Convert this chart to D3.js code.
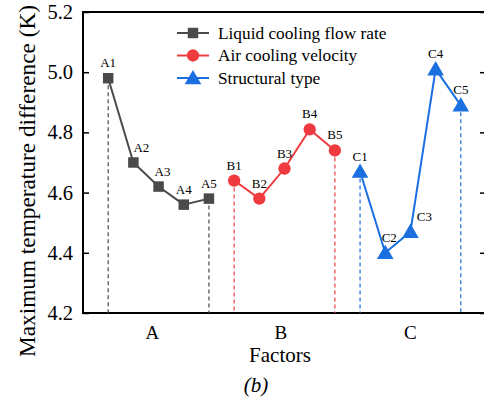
<!DOCTYPE html>
<html>
<head>
<meta charset="utf-8">
<script src="https://cdn.jsdelivr.net/npm/d3@7"></script>
<style>
  body { margin: 0; background: #fff; }
  svg { display: block; font-family: "Liberation Serif", "Times New Roman", serif; }
</style>
</head>
<body>
<svg id="chart" width="484" height="402"></svg>
<script>
// Data
const seriesNames = ["Liquid cooling flow rate", "Air cooling velocity", "Structural type"];
const groupNames = ["A", "B", "C"];
const levelLabels = [
    ["A1", "A2", "A3", "A4", "A5"],
    ["B1", "B2", "B3", "B4", "B5"],
    ["C1", "C2", "C3", "C4", "C5"]
];
const liquidValues = [4.98, 4.70, 4.62, 4.56, 4.58];
const airValues = [4.64, 4.58, 4.68, 4.81, 4.74];
const structValues = [4.67, 4.40, 4.47, 5.01, 4.89];
const yTicks = [4.2, 4.4, 4.6, 4.8, 5.0, 5.2];

const colors = ["#4a4a4a", "#ef3b3f", "#1b6fe0"];
const symbols = [d3.symbolSquare, d3.symbolCircle, d3.symbolTriangle];
const symbolSizes = [110, 120, 120];

const svg = d3.select("#chart");
const plotL = 83, plotR = 486, plotT = 12, plotB = 313;

const x = d3.scaleLinear().domain([-1, 15]).range([plotL, plotR]);
const y = d3.scaleLinear().domain([4.2, 5.2]).range([plotB, plotT]);

const allValues = [liquidValues, airValues, structValues];

// frame
svg.append("rect")
    .attr("x", plotL).attr("y", plotT)
    .attr("width", plotR - plotL).attr("height", plotB - plotT)
    .attr("fill", "none").attr("stroke", "#000").attr("stroke-width", 2);

// y axis, ticks inward
const yAxis = svg.append("g")
    .attr("transform", `translate(${plotL},0)`)
    .call(d3.axisLeft(y).tickValues(yTicks).tickFormat(d3.format(".1f")).tickSizeInner(-6).tickSizeOuter(0).tickPadding(10));
yAxis.select(".domain").remove();
yAxis.selectAll("line").attr("stroke", "#000").attr("stroke-width", 1.5);
yAxis.selectAll("text").attr("font-size", 20.5).attr("fill", "#000")
    .attr("font-family", "Liberation Serif");

const yAxisR = svg.append("g")
    .attr("transform", `translate(${plotR},0)`)
    .call(d3.axisRight(y).tickValues(yTicks).tickFormat("").tickSizeInner(-6).tickSizeOuter(0));
yAxisR.select(".domain").remove();
yAxisR.selectAll("line").attr("stroke", "#000").attr("stroke-width", 1.5);

// group labels on the x axis
const groupCenters = [1.75, 6.85, 12];
svg.selectAll(".grp")
    .data(groupNames)
    .join("text")
    .attr("x", (d, i) => x(groupCenters[i]))
    .attr("y", plotB + 26)
    .attr("text-anchor", "middle")
    .attr("font-size", 19)
    .text(d => d);

// axis titles
svg.append("text")
    .attr("x", 280).attr("y", 362)
    .attr("text-anchor", "middle")
    .attr("font-size", 21)
    .text("Factors");

svg.append("text")
    .attr("x", 256).attr("y", 392)
    .attr("text-anchor", "middle")
    .attr("font-size", 21)
    .attr("font-style", "italic")
    .text("(b)");

svg.append("text")
    .attr("transform", "translate(35,181) rotate(-90)")
    .attr("text-anchor", "middle")
    .attr("font-size", 23.3)
    .text("Maximum temperature difference (K)");

// small label nudges where the original moved them off the line
const labelDx = { A2: 8, A3: 4, C2: 4, C3: 14 };

allValues.forEach((vals, s) => {
    const pts = vals.map((v, i) => ({ idx: s * 5 + i, v, label: levelLabels[s][i] }));
    const g = svg.append("g");

    // dashed drop lines from first and last level
    [pts[0], pts[pts.length - 1]].forEach(p => {
        g.append("line")
            .attr("x1", x(p.idx)).attr("x2", x(p.idx))
            .attr("y1", y(p.v)).attr("y2", plotB)
            .attr("stroke", colors[s])
            .attr("stroke-width", 1.2)
            .attr("stroke-dasharray", "4,3");
    });

    g.append("path")
        .datum(pts)
        .attr("fill", "none")
        .attr("stroke", colors[s])
        .attr("stroke-width", 2)
        .attr("d", d3.line().x(d => x(d.idx)).y(d => y(d.v)));

    g.selectAll(".pt")
        .data(pts)
        .join("path")
        .attr("transform", d => `translate(${x(d.idx)},${y(d.v) + (s === 2 ? 1.5 : 0)})`)
        .attr("d", d3.symbol().type(symbols[s]).size(symbolSizes[s]))
        .attr("fill", colors[s]);

    g.selectAll(".lbl")
        .data(pts)
        .join("text")
        .attr("x", d => x(d.idx) + (labelDx[d.label] || 0))
        .attr("y", d => y(d.v) - 11)
        .attr("text-anchor", "middle")
        .attr("font-size", 13)
        .text(d => d.label);
});

// legend
const legend = svg.append("g").attr("transform", "translate(177,33)");
seriesNames.forEach((name, i) => {
    const row = legend.append("g").attr("transform", `translate(0,${i * 22.5})`);
    row.append("line")
        .attr("x1", 0).attr("x2", 32)
        .attr("stroke", colors[i]).attr("stroke-width", 2);
    row.append("path")
        .attr("transform", `translate(16,${i === 2 ? 1.5 : 0})`)
        .attr("d", d3.symbol().type(symbols[i]).size(symbolSizes[i]))
        .attr("fill", colors[i]);
    row.append("text")
        .attr("x", 41).attr("y", 5.5)
        .attr("font-size", 17.3)
        .text(name);
});
</script>
</body>
</html>
